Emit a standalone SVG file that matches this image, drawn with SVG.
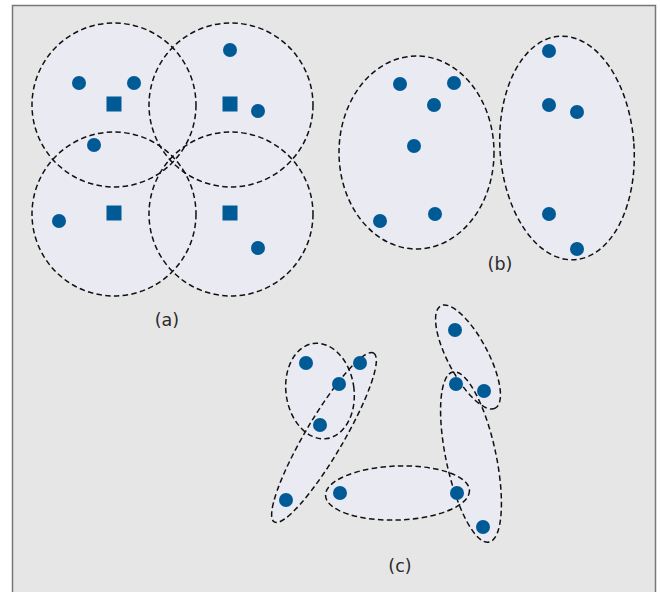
<svg xmlns="http://www.w3.org/2000/svg" width="660" height="592" viewBox="0 0 660 592">
  <style>
    .zone { fill: #e9eaf2; stroke: #111; stroke-width: 1.5; stroke-dasharray: 5.5 3.3; }
    .zone-line { fill: none; stroke: #111; stroke-width: 1.5; stroke-dasharray: 5.5 3.3; }
    .dot { fill: #005a96; }
    .sq { fill: #005a96; }
    .lbl { font-family: "DejaVu Sans", "Liberation Sans", sans-serif; font-size: 17.5px; fill: #2a2a2a; text-anchor: middle; }
  </style>

  <!-- panel -->
  <rect x="12.5" y="5.5" width="643" height="600" fill="#e6e6e6" stroke="#777" stroke-width="1.5"/>

  <!-- (a) four overlapping circular regions -->
  <g id="panel-a">
    <g id="a-fills">
      <circle cx="114" cy="105" r="82" fill="#e9eaf2"/>
      <circle cx="231" cy="105" r="82" fill="#e9eaf2"/>
      <circle cx="114" cy="214" r="82" fill="#e9eaf2"/>
      <circle cx="231" cy="214" r="82" fill="#e9eaf2"/>
    </g>
    <g id="a-outlines">
      <circle class="zone-line" cx="114" cy="105" r="82"/>
      <circle class="zone-line" cx="231" cy="105" r="82"/>
      <circle class="zone-line" cx="114" cy="214" r="82"/>
      <circle class="zone-line" cx="231" cy="214" r="82"/>
    </g>
    <g id="a-heads">
      <rect class="sq" x="106.5" y="96.5" width="15" height="15"/>
      <rect class="sq" x="222.5" y="96.5" width="15" height="15"/>
      <rect class="sq" x="106.5" y="205.5" width="15" height="15"/>
      <rect class="sq" x="222.5" y="205.5" width="15" height="15"/>
    </g>
    <g id="a-nodes">
      <circle class="dot" cx="79" cy="83" r="7"/>
      <circle class="dot" cx="134" cy="83" r="7"/>
      <circle class="dot" cx="230" cy="50" r="7"/>
      <circle class="dot" cx="258" cy="111" r="7"/>
      <circle class="dot" cx="94" cy="145" r="7"/>
      <circle class="dot" cx="59" cy="221" r="7"/>
      <circle class="dot" cx="258" cy="248" r="7"/>
    </g>
    <text class="lbl" x="167" y="326">(a)</text>
  </g>

  <!-- (b) two elliptical clusters -->
  <g id="panel-b">
    <ellipse class="zone" cx="416.5" cy="152.5" rx="77.5" ry="96.5"/>
    <ellipse class="zone" cx="567" cy="148" rx="67" ry="112" transform="rotate(-4 567 148)"/>
    <g id="b-nodes">
      <circle class="dot" cx="400" cy="84" r="7"/>
      <circle class="dot" cx="454" cy="83" r="7"/>
      <circle class="dot" cx="434" cy="105" r="7"/>
      <circle class="dot" cx="414" cy="146" r="7"/>
      <circle class="dot" cx="380" cy="221" r="7"/>
      <circle class="dot" cx="435" cy="214" r="7"/>
      <circle class="dot" cx="549" cy="51" r="7"/>
      <circle class="dot" cx="549" cy="105" r="7"/>
      <circle class="dot" cx="577" cy="112" r="7"/>
      <circle class="dot" cx="549" cy="214" r="7"/>
      <circle class="dot" cx="577" cy="249" r="7"/>
    </g>
    <text class="lbl" x="500" y="270">(b)</text>
  </g>

  <!-- (c) chained elongated clusters -->
  <g id="panel-c">
    <g id="c-fills">
      <ellipse cx="320" cy="391" rx="34" ry="48" transform="rotate(-8 320 391)" fill="#e9eaf2"/>
      <ellipse cx="324" cy="437.5" rx="98" ry="19" transform="rotate(-59.5 324 437.5)" fill="#e9eaf2"/>
      <ellipse cx="397.5" cy="493" rx="72" ry="27" transform="rotate(-2 397.5 493)" fill="#e9eaf2"/>
      <ellipse cx="468" cy="357" rx="58" ry="20" transform="rotate(62 468 357)" fill="#e9eaf2"/>
      <ellipse cx="471" cy="457" rx="87" ry="25" transform="rotate(78 471 457)" fill="#e9eaf2"/>
    </g>
    <g id="c-outlines">
      <ellipse class="zone-line" cx="320" cy="391" rx="34" ry="48" transform="rotate(-8 320 391)"/>
      <ellipse class="zone-line" cx="324" cy="437.5" rx="98" ry="19" transform="rotate(-59.5 324 437.5)"/>
      <ellipse class="zone-line" cx="397.5" cy="493" rx="72" ry="27" transform="rotate(-2 397.5 493)"/>
      <ellipse class="zone-line" cx="468" cy="357" rx="58" ry="20" transform="rotate(62 468 357)"/>
      <ellipse class="zone-line" cx="471" cy="457" rx="87" ry="25" transform="rotate(78 471 457)"/>
    </g>
    <g id="c-nodes">
      <circle class="dot" cx="306" cy="363" r="7"/>
      <circle class="dot" cx="360" cy="363" r="7"/>
      <circle class="dot" cx="339" cy="384" r="7"/>
      <circle class="dot" cx="320" cy="425" r="7"/>
      <circle class="dot" cx="286" cy="500" r="7"/>
      <circle class="dot" cx="340" cy="493" r="7"/>
      <circle class="dot" cx="457" cy="493" r="7"/>
      <circle class="dot" cx="455" cy="330" r="7"/>
      <circle class="dot" cx="456" cy="384" r="7"/>
      <circle class="dot" cx="484" cy="391" r="7"/>
      <circle class="dot" cx="483" cy="527" r="7"/>
    </g>
    <text class="lbl" x="400" y="572">(c)</text>
  </g>
</svg>
